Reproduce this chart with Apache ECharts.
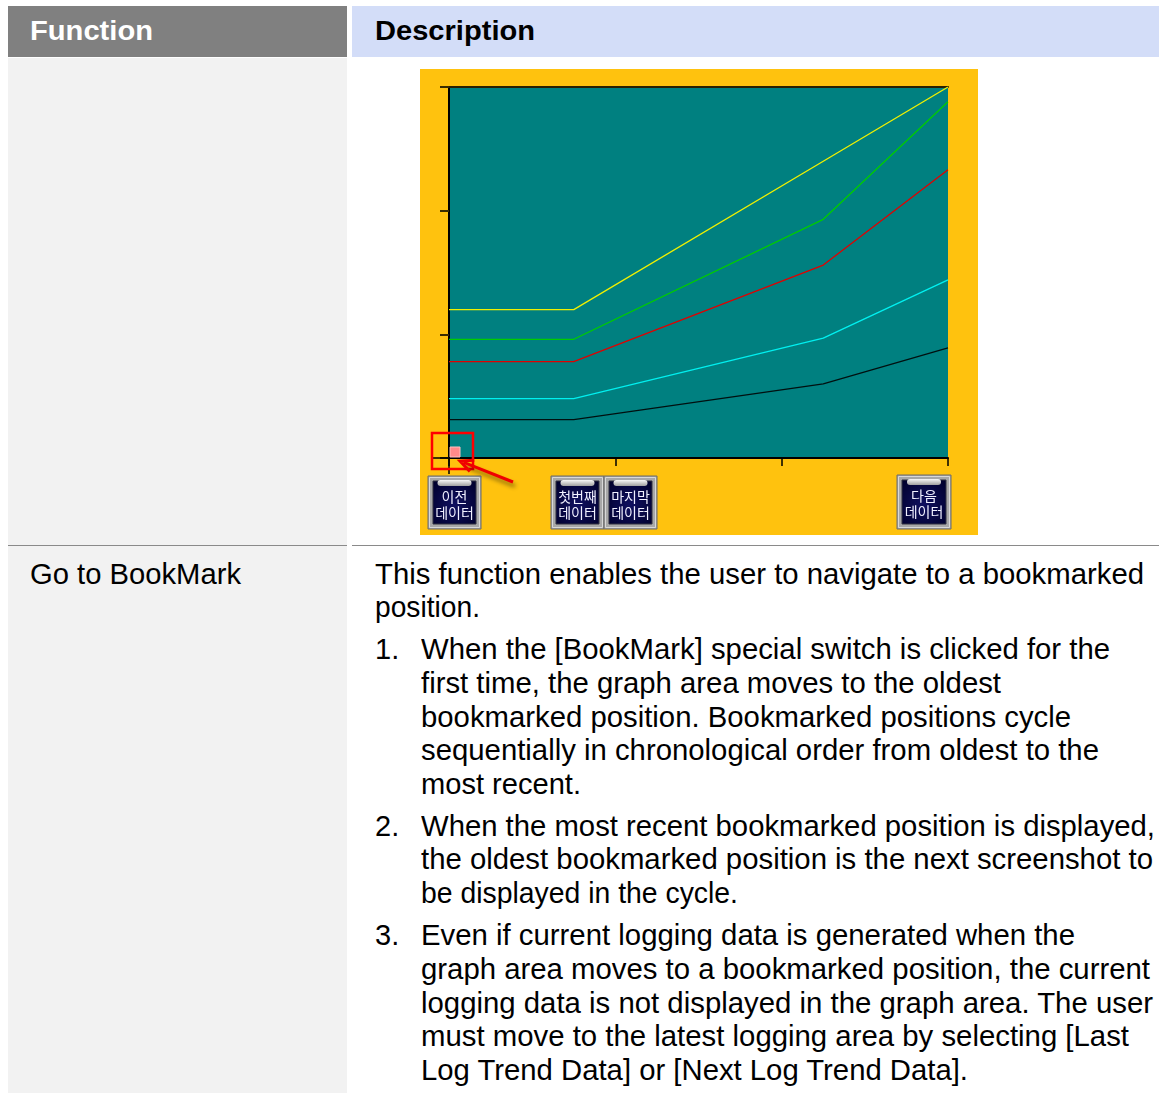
<!DOCTYPE html>
<html><head><meta charset="utf-8">
<script src="https://cdn.jsdelivr.net/npm/echarts@6.0.0/dist/echarts.min.js"></script>
<style>
html,body{margin:0;padding:0;background:#fff;}
body{width:1159px;height:1093px;position:relative;overflow:hidden;font-family:"Liberation Sans",Arial,sans-serif;}
.box{position:absolute;}
.t{position:absolute;white-space:nowrap;transform-origin:0 50%;line-height:34px;height:34px;color:#000;}
</style></head><body>
<div class="box" style="left:8px;top:6px;width:339px;height:51px;background:#808080"></div>
<div class="box" style="left:352px;top:6px;width:807px;height:51px;background:#D3DDF8"></div>
<div class="box" style="left:8px;top:58px;width:339px;height:1035px;background:#F2F2F2"></div>
<div class="box" style="left:8px;top:545px;width:339px;height:1px;background:#8a8a8a"></div>
<div class="box" style="left:352px;top:545px;width:807px;height:1px;background:#8a8a8a"></div>
<div id="chart" style="position:absolute;left:420px;top:69px;width:558px;height:466px;"></div>
<script>
// ---- chart data ----
const xValues = [0, 3, 9, 12];
const yellowSeries = [120, 120, 240, 300];
const greenSeries = [96, 96, 193, 288];
const redSeries = [78, 78, 156, 233];
const cyanSeries = [48, 48, 97, 144];
const blackSeries = [31, 31, 60, 89];
const xTicks = [0, 4, 8, 12];
const yTicks = [0, 100, 200, 300];
const buttonLabels = ['이전\n데이터', '첫번째\n데이터', '마지막\n데이터', '다음\n데이터'];

// ---- page text ----
const LINES = [
  {text:'Function', x:30, cy:31, r:153, fs:27, bold:true, color:'#fff'},
  {text:'Description', x:375, cy:31, r:535, fs:27, bold:true},
  {text:'Go to BookMark', x:30, cy:574, r:241, fs:29},
  {text:'This function enables the user to navigate to a bookmarked', x:375, cy:574, r:1144, fs:29},
  {text:'position.', x:375, cy:607, r:480, fs:29},
  {text:'1.', x:375, cy:649, fs:29},
  {text:'When the [BookMark] special switch is clicked for the', x:421, cy:649, r:1110, fs:29},
  {text:'first time, the graph area moves to the oldest', x:421, cy:683, r:1001, fs:29},
  {text:'bookmarked position. Bookmarked positions cycle', x:421, cy:717, r:1071, fs:29},
  {text:'sequentially in chronological order from oldest to the', x:421, cy:750, r:1099, fs:29},
  {text:'most recent.', x:421, cy:784, r:581, fs:29},
  {text:'2.', x:375, cy:826, fs:29},
  {text:'When the most recent bookmarked position is displayed,', x:421, cy:826, r:1155, fs:29},
  {text:'the oldest bookmarked position is the next screenshot to', x:421, cy:859, r:1153, fs:29},
  {text:'be displayed in the cycle.', x:421, cy:893, r:738, fs:29},
  {text:'3.', x:375, cy:935, fs:29},
  {text:'Even if current logging data is generated when the', x:421, cy:935, r:1075, fs:29},
  {text:'graph area moves to a bookmarked position, the current', x:421, cy:969, r:1150, fs:29},
  {text:'logging data is not displayed in the graph area. The user', x:421, cy:1003, r:1153, fs:29},
  {text:'must move to the latest logging area by selecting [Last', x:421, cy:1036, r:1129, fs:29},
  {text:'Log Trend Data] or [Next Log Trend Data].', x:421, cy:1070, r:968, fs:29}
];
LINES.forEach(l => {
  const s = document.createElement('div');
  s.className = 't';
  s.textContent = l.text;
  s.style.left = l.x + 'px';
  s.style.top = (l.cy - 17) + 'px';
  s.style.fontSize = l.fs + 'px';
  if (l.bold) s.style.fontWeight = 'bold';
  if (l.color) s.style.color = l.color;
  document.body.appendChild(s);
  if (l.r) {
    const w = s.getBoundingClientRect().width;
    s.style.transform = 'scaleX(' + ((l.r - l.x) / w) + ')';
  }
});

// ---- chart ----
const chart = echarts.init(document.getElementById('chart'));
function mk(arr) { return xValues.map((x, i) => [x, arr[i]]); }
const seriesDefs = [
  {name:'s1', data:yellowSeries, color:'#F0F000'},
  {name:'s2', data:greenSeries, color:'#00CC00'},
  {name:'s3', data:redSeries, color:'#E00000'},
  {name:'s4', data:cyanSeries, color:'#00F0F0'},
  {name:'s5', data:blackSeries, color:'#001010'}
];
chart.setOption({
  animation: false,
  backgroundColor: '#FFC20E',
  grid: {left:29, top:18, right:30, bottom:77, show:true, backgroundColor:'#008080', borderWidth:0},
  xAxis: [
    {type:'value', min:xTicks[0], max:xTicks[xTicks.length-1], interval:xTicks[1]-xTicks[0], position:'bottom',
     axisLine:{show:true, onZero:false, lineStyle:{color:'#000', width:2}},
     axisTick:{show:true, length:8, lineStyle:{color:'#000', width:1.5}},
     axisLabel:{show:false}, splitLine:{show:false}},
    {type:'value', min:xTicks[0], max:xTicks[xTicks.length-1], position:'top',
     axisLine:{show:true, onZero:false, lineStyle:{color:'#2a2000', width:2}},
     axisTick:{show:false}, axisLabel:{show:false}, splitLine:{show:false}}
  ],
  yAxis: {type:'value', min:yTicks[0], max:yTicks[yTicks.length-1], interval:yTicks[1]-yTicks[0],
     axisLine:{show:true, onZero:false, lineStyle:{color:'#000', width:2}},
     axisTick:{show:true, length:9, lineStyle:{color:'#3a2c00', width:2}},
     axisLabel:{show:false}, splitLine:{show:false}},
  series: seriesDefs.map(s => ({
    name: s.name, type:'line', xAxisIndex:0, data: mk(s.data), symbol:'none',
    lineStyle:{color:s.color, width:1.3}, itemStyle:{color:s.color}
  }))
});

const o = chart.convertToPixel({gridIndex:0}, [0, 0]);
const ox = o[0], oy = o[1];
function button(x, y, w, h, label) {
  return {
    type:'group', x:x, y:y,
    children:[
      {type:'rect', shape:{x:0, y:0, width:w, height:h}, style:{fill:'#A8A8A8', stroke:'#6c6c6c', lineWidth:1}},
      {type:'rect', shape:{x:1.5, y:1.5, width:w-3, height:h-3}, style:{fill:'none', stroke:'#D8D8D8', lineWidth:1}},
      {type:'rect', shape:{x:5, y:5, width:w-10, height:h-10},
       style:{fill:new echarts.graphic.RadialGradient(0.5, 0.55, 0.7, [{offset:0, color:'#101060'}, {offset:1, color:'#00002c'}]), stroke:'#303040', lineWidth:1}},
      {type:'rect', shape:{x:w/2-17, y:4, width:34, height:6, r:3},
       style:{fill:new echarts.graphic.LinearGradient(0, 0, 0, 1, [{offset:0, color:'#f8f8f8'}, {offset:1, color:'#a0a0a0'}])}},
      {type:'text', x:w/2, y:h/2+2, style:{text:label, align:'center', verticalAlign:'middle',
       fill:'#F0F0FF', font:'14px "Noto Sans CJK KR"', lineHeight:16}}
    ]
  };
}
const tipX = ox + 11, tipY = oy + 3, stX = ox + 64, stY = oy + 24;
const dx = tipX - stX, dy = tipY - stY, len = Math.sqrt(dx*dx + dy*dy);
const ux = dx/len, uy = dy/len, px = -uy, py = ux;
const hl = 13, hw = 6;
chart.setOption({
  graphic: [
    {type:'line', shape:{x1:ox-17, y1:oy, x2:ox, y2:oy}, style:{stroke:'#000', lineWidth:1.5}, z:100},
    {type:'line', shape:{x1:ox, y1:oy, x2:ox, y2:oy+16}, style:{stroke:'#000', lineWidth:1.5}, z:100},
    {type:'rect', shape:{x:ox+1, y:oy-11, width:10, height:10}, style:{fill:'#FF8A8A', stroke:'#FFC0C0', lineWidth:1}, z:100},
    {type:'rect', shape:{x:ox-17, y:oy-25, width:41, height:36}, style:{fill:'none', stroke:'#FF0000', lineWidth:2.5}, z:101},
    {type:'line', shape:{x1:stX, y1:stY, x2:tipX - ux*4, y2:tipY - uy*4},
     style:{stroke:'#F00000', lineWidth:3, shadowColor:'rgba(0,0,0,0.45)', shadowBlur:4, shadowOffsetX:2, shadowOffsetY:4}, z:102},
    {type:'polyline', shape:{points:[[tipX - ux*hl + px*hw, tipY - uy*hl + py*hw], [tipX, tipY], [tipX - ux*hl - px*hw, tipY - uy*hl - py*hw]]},
     style:{stroke:'#F00000', lineWidth:3, fill:'none'}, z:102},
    button(8, 407, 53, 53, buttonLabels[0]),
    button(131, 407, 53, 53, buttonLabels[1]),
    button(184, 407, 53, 53, buttonLabels[2]),
    button(477, 406, 54, 54, buttonLabels[3])
  ]
});
</script>
</body></html>
